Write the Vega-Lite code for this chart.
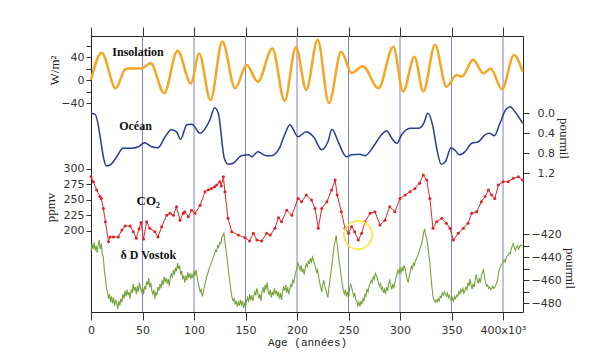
{
  "$schema": "https://vega.github.io/schema/vega-lite/v6.json",
  "width": 432,
  "height": 276,
  "autosize": {"type": "none"},
  "padding": {"left": 91, "top": 36, "right": 89, "bottom": 47},
  "background": "white",
  "config": {
    "view": {"stroke": "#222", "strokeWidth": 1},
    "axis": {"labelFont": "DejaVu Sans", "labelFontSize": 11, "labelColor": "#333", "tickColor": "#333", "domain": false, "grid": false, "titleFont": "Liberation Serif", "titleFontWeight": "normal", "titleFontSize": 13, "titleColor": "#222"}
  },
  "datasets": {
    "grid": [{"g": 50}, {"g": 100}, {"g": 150}, {"g": 200}, {"g": 250}, {"g": 300}, {"g": 350}, {"g": 400}],
    "ins": [{"age":0,"v":0},{"age":10.4,"v":47.5},{"age":24,"v":-14.5},{"age":33,"v":18},{"age":37,"v":20},{"age":49,"v":20},{"age":58,"v":29},{"age":71,"v":-23},{"age":84,"v":51},{"age":97,"v":-6},{"age":105,"v":46},{"age":116,"v":-35},{"age":127.5,"v":67},{"age":140,"v":-14.5},{"age":151,"v":26},{"age":162,"v":-3},{"age":176,"v":55},{"age":188,"v":-36},{"age":199,"v":57},{"age":209,"v":-17},{"age":220,"v":70},{"age":231,"v":-40},{"age":243,"v":49},{"age":253,"v":12},{"age":264,"v":24},{"age":279,"v":-14.5},{"age":293.5,"v":58},{"age":303,"v":-20},{"age":314,"v":40.6},{"age":322.6,"v":-20},{"age":334,"v":61},{"age":345,"v":-11.6},{"age":355,"v":8.7},{"age":360,"v":6},{"age":371,"v":35},{"age":381,"v":11.6},{"age":388,"v":20},{"age":399,"v":-16},{"age":410.7,"v":43.5},{"age":419,"v":14.5}],
    "ocean": [{"age":0,"v":0.0},{"age":4,"v":0.02},{"age":15,"v":1.05},{"age":18,"v":1.04},{"age":25,"v":0.87},{"age":31,"v":0.7},{"age":39.5,"v":0.7},{"age":46,"v":0.67},{"age":52,"v":0.59},{"age":59,"v":0.67},{"age":65,"v":0.69},{"age":72,"v":0.47},{"age":78,"v":0.33},{"age":83,"v":0.37},{"age":87,"v":0.52},{"age":93,"v":0.23},{"age":98,"v":0.22},{"age":106,"v":0.4},{"age":111,"v":0.3},{"age":115.5,"v":0.13},{"age":120,"v":-0.11},{"age":123.6,"v":0.0},{"age":129.4,"v":0.9},{"age":133,"v":1.02},{"age":138,"v":1.0},{"age":146,"v":0.85},{"age":153,"v":0.83},{"age":156,"v":0.87},{"age":162,"v":0.77},{"age":170.5,"v":0.85},{"age":175,"v":0.85},{"age":183.5,"v":0.67},{"age":188,"v":0.43},{"age":193,"v":0.23},{"age":201,"v":0.47},{"age":209,"v":0.37},{"age":216,"v":0.47},{"age":224,"v":0.73},{"age":230,"v":0.57},{"age":234,"v":0.32},{"age":240,"v":0.57},{"age":248,"v":0.87},{"age":253,"v":0.83},{"age":261,"v":0.82},{"age":266,"v":0.85},{"age":274,"v":0.67},{"age":282,"v":0.43},{"age":287,"v":0.35},{"age":292,"v":0.5},{"age":297,"v":0.6},{"age":301.6,"v":0.43},{"age":310,"v":0.3},{"age":318,"v":0.3},{"age":323,"v":0.2},{"age":327,"v":0.0},{"age":332,"v":0.27},{"age":335.6,"v":0.7},{"age":340,"v":1.02},{"age":344,"v":0.97},{"age":349.5,"v":0.69},{"age":353,"v":0.73},{"age":358,"v":0.83},{"age":363,"v":0.77},{"age":369.6,"v":0.6},{"age":376,"v":0.57},{"age":382.5,"v":0.43},{"age":387,"v":0.4},{"age":391.6,"v":0.45},{"age":397,"v":0.2},{"age":402.6,"v":-0.07},{"age":407,"v":-0.13},{"age":411.6,"v":-0.03},{"age":419,"v":0.2}],
    "co2": [{"age":0,"v":287},{"age":2.3,"v":279},{"age":5.5,"v":265.6},{"age":8.7,"v":255},{"age":10,"v":252},{"age":12,"v":236},{"age":14,"v":214.6},{"age":17,"v":182},{"age":18.4,"v":190},{"age":21.7,"v":190},{"age":26.5,"v":190},{"age":30,"v":201},{"age":33,"v":207.6},{"age":38,"v":207.6},{"age":41,"v":198.4},{"age":44,"v":188},{"age":46.6,"v":202.7},{"age":48.5,"v":213.4},{"age":51,"v":186.6},{"age":54,"v":214.5},{"age":57,"v":203.8},{"age":62,"v":198.4},{"age":65,"v":190},{"age":68.6,"v":206.5},{"age":73.5,"v":225},{"age":76.7,"v":228},{"age":80,"v":225},{"age":83,"v":238.7},{"age":86.4,"v":217},{"age":89.6,"v":228},{"age":91,"v":230.7},{"age":94.5,"v":222.6},{"age":97.7,"v":233},{"age":101,"v":228},{"age":106,"v":241},{"age":110.7,"v":263},{"age":114,"v":266},{"age":117,"v":268},{"age":120,"v":271},{"age":122,"v":273.7},{"age":125,"v":279},{"age":126.5,"v":272},{"age":128.5,"v":287},{"age":130,"v":263},{"age":133,"v":220},{"age":136.6,"v":198.4},{"age":143,"v":193},{"age":149.5,"v":188.7},{"age":154,"v":183.4},{"age":157.6,"v":196},{"age":161,"v":185},{"age":165.7,"v":183.4},{"age":170.5,"v":196},{"age":174,"v":193},{"age":178.6,"v":203.8},{"age":182,"v":221},{"age":185,"v":214.5},{"age":190,"v":233},{"age":195,"v":225},{"age":201,"v":252},{"age":204.5,"v":246.8},{"age":209,"v":257.5},{"age":214,"v":249.5},{"age":217.5,"v":236},{"age":220.7,"v":203.8},{"age":224,"v":236},{"age":229,"v":246.8},{"age":233.6,"v":265.6},{"age":237,"v":281.8},{"age":239,"v":257.5},{"age":243,"v":230.7},{"age":246.6,"v":203.8},{"age":250,"v":196},{"age":253,"v":206.5},{"age":256,"v":198.4},{"age":259.5,"v":185},{"age":262.8,"v":196},{"age":266,"v":214.5},{"age":271,"v":228},{"age":275.7,"v":230.7},{"age":280.6,"v":209},{"age":285.4,"v":217},{"age":290,"v":238.7},{"age":295,"v":230.7},{"age":300,"v":252},{"age":305,"v":257.5},{"age":309.7,"v":263},{"age":314.5,"v":268},{"age":319,"v":276.4},{"age":322.6,"v":290},{"age":325.9,"v":281.8},{"age":329,"v":252},{"age":332,"v":203.8},{"age":335.6,"v":214.5},{"age":340.5,"v":220},{"age":345,"v":212},{"age":348.5,"v":203.8},{"age":351.8,"v":185},{"age":356.6,"v":196},{"age":361.5,"v":203.8},{"age":366,"v":212},{"age":369.6,"v":228},{"age":374.4,"v":230.7},{"age":379,"v":246.8},{"age":382.5,"v":255},{"age":385.8,"v":265.6},{"age":389,"v":257.5},{"age":392,"v":252},{"age":395.5,"v":273.7},{"age":400,"v":279},{"age":405,"v":279},{"age":410,"v":284.5},{"age":415,"v":287},{"age":419,"v":281.8}],
    "dd": [{"age":0,"v":-435},{"age":1,"v":-428},{"age":2,"v":-433},{"age":3,"v":-427},{"age":4,"v":-434},{"age":5,"v":-430},{"age":6,"v":-436},{"age":7,"v":-429},{"age":8,"v":-425},{"age":9,"v":-433},{"age":10,"v":-428},{"age":11,"v":-437},{"age":12,"v":-440},{"age":13,"v":-452},{"age":14,"v":-458},{"age":15,"v":-467},{"age":16,"v":-470},{"age":17,"v":-476},{"age":18,"v":-472},{"age":19,"v":-479},{"age":20,"v":-474},{"age":21,"v":-480},{"age":22,"v":-475},{"age":23,"v":-482},{"age":24,"v":-477},{"age":25,"v":-480},{"age":26,"v":-485},{"age":27,"v":-478},{"age":28,"v":-482},{"age":29,"v":-476},{"age":30,"v":-479},{"age":31,"v":-472},{"age":32,"v":-476},{"age":33,"v":-469},{"age":34,"v":-474},{"age":35,"v":-468},{"age":36,"v":-473},{"age":37,"v":-470},{"age":38,"v":-476},{"age":39,"v":-468},{"age":40,"v":-471},{"age":41,"v":-463},{"age":42,"v":-469},{"age":43,"v":-466},{"age":44,"v":-472},{"age":45,"v":-465},{"age":46,"v":-470},{"age":47,"v":-462},{"age":48,"v":-467},{"age":49,"v":-470},{"age":50,"v":-466},{"age":51,"v":-472},{"age":52,"v":-465},{"age":53,"v":-468},{"age":54,"v":-461},{"age":55,"v":-464},{"age":56,"v":-458},{"age":57,"v":-466},{"age":58,"v":-462},{"age":59,"v":-469},{"age":60,"v":-472},{"age":61,"v":-468},{"age":62,"v":-476},{"age":63,"v":-470},{"age":64,"v":-473},{"age":65,"v":-466},{"age":66,"v":-469},{"age":67,"v":-463},{"age":68,"v":-467},{"age":69,"v":-460},{"age":70,"v":-464},{"age":71,"v":-457},{"age":72,"v":-461},{"age":73,"v":-458},{"age":74,"v":-463},{"age":75,"v":-459},{"age":76,"v":-465},{"age":77,"v":-458},{"age":78,"v":-454},{"age":79,"v":-458},{"age":80,"v":-451},{"age":81,"v":-455},{"age":82,"v":-449},{"age":83,"v":-452},{"age":84,"v":-445},{"age":85,"v":-450},{"age":86,"v":-447},{"age":87,"v":-455},{"age":88,"v":-452},{"age":89,"v":-459},{"age":90,"v":-456},{"age":91,"v":-462},{"age":92,"v":-456},{"age":93,"v":-460},{"age":94,"v":-453},{"age":95,"v":-458},{"age":96,"v":-454},{"age":97,"v":-459},{"age":98,"v":-455},{"age":99,"v":-458},{"age":100,"v":-452},{"age":101,"v":-456},{"age":102,"v":-451},{"age":103,"v":-457},{"age":104,"v":-462},{"age":105,"v":-466},{"age":106,"v":-470},{"age":107,"v":-468},{"age":108,"v":-474},{"age":109,"v":-471},{"age":110,"v":-466},{"age":111,"v":-462},{"age":112,"v":-458},{"age":113,"v":-455},{"age":114,"v":-452},{"age":115,"v":-449},{"age":116,"v":-447},{"age":117,"v":-444},{"age":118,"v":-442},{"age":119,"v":-439},{"age":120,"v":-437},{"age":121,"v":-434},{"age":122,"v":-435},{"age":123,"v":-430},{"age":124,"v":-431},{"age":125,"v":-427},{"age":126,"v":-428},{"age":127,"v":-423},{"age":128,"v":-421},{"age":129,"v":-419},{"age":130,"v":-426},{"age":131,"v":-433},{"age":132,"v":-440},{"age":133,"v":-448},{"age":134,"v":-456},{"age":135,"v":-463},{"age":136,"v":-470},{"age":137,"v":-475},{"age":138,"v":-478},{"age":139,"v":-476},{"age":140,"v":-481},{"age":141,"v":-478},{"age":142,"v":-483},{"age":143,"v":-479},{"age":144,"v":-482},{"age":145,"v":-477},{"age":146,"v":-481},{"age":147,"v":-478},{"age":148,"v":-484},{"age":149,"v":-480},{"age":150,"v":-483},{"age":151,"v":-478},{"age":152,"v":-475},{"age":153,"v":-479},{"age":154,"v":-472},{"age":155,"v":-477},{"age":156,"v":-473},{"age":157,"v":-478},{"age":158,"v":-474},{"age":159,"v":-470},{"age":160,"v":-473},{"age":161,"v":-467},{"age":162,"v":-471},{"age":163,"v":-476},{"age":164,"v":-472},{"age":165,"v":-478},{"age":166,"v":-470},{"age":167,"v":-466},{"age":168,"v":-471},{"age":169,"v":-464},{"age":170,"v":-468},{"age":171,"v":-462},{"age":172,"v":-469},{"age":173,"v":-473},{"age":174,"v":-468},{"age":175,"v":-475},{"age":176,"v":-470},{"age":177,"v":-473},{"age":178,"v":-467},{"age":179,"v":-472},{"age":180,"v":-469},{"age":181,"v":-474},{"age":182,"v":-470},{"age":183,"v":-476},{"age":184,"v":-471},{"age":185,"v":-477},{"age":186,"v":-470},{"age":187,"v":-466},{"age":188,"v":-469},{"age":189,"v":-464},{"age":190,"v":-471},{"age":191,"v":-466},{"age":192,"v":-472},{"age":193,"v":-468},{"age":194,"v":-463},{"age":195,"v":-466},{"age":196,"v":-460},{"age":197,"v":-462},{"age":198,"v":-456},{"age":199,"v":-452},{"age":200,"v":-449},{"age":201,"v":-445},{"age":202,"v":-448},{"age":203,"v":-451},{"age":204,"v":-447},{"age":205,"v":-453},{"age":206,"v":-450},{"age":207,"v":-455},{"age":208,"v":-449},{"age":209,"v":-446},{"age":210,"v":-448},{"age":211,"v":-443},{"age":212,"v":-446},{"age":213,"v":-441},{"age":214,"v":-444},{"age":215,"v":-440},{"age":216,"v":-443},{"age":217,"v":-446},{"age":218,"v":-449},{"age":219,"v":-453},{"age":220,"v":-451},{"age":221,"v":-457},{"age":222,"v":-462},{"age":223,"v":-466},{"age":224,"v":-470},{"age":225,"v":-464},{"age":226,"v":-460},{"age":227,"v":-465},{"age":228,"v":-468},{"age":229,"v":-472},{"age":230,"v":-475},{"age":231,"v":-466},{"age":232,"v":-460},{"age":233,"v":-452},{"age":234,"v":-446},{"age":235,"v":-438},{"age":236,"v":-430},{"age":237,"v":-426},{"age":238,"v":-421},{"age":239,"v":-428},{"age":240,"v":-437},{"age":241,"v":-444},{"age":242,"v":-450},{"age":243,"v":-458},{"age":244,"v":-464},{"age":245,"v":-469},{"age":246,"v":-472},{"age":247,"v":-468},{"age":248,"v":-474},{"age":249,"v":-470},{"age":250,"v":-476},{"age":251,"v":-468},{"age":252,"v":-463},{"age":253,"v":-466},{"age":254,"v":-470},{"age":255,"v":-474},{"age":256,"v":-471},{"age":257,"v":-477},{"age":258,"v":-478},{"age":259,"v":-482},{"age":260,"v":-479},{"age":261,"v":-483},{"age":262,"v":-478},{"age":263,"v":-481},{"age":264,"v":-476},{"age":265,"v":-478},{"age":266,"v":-472},{"age":267,"v":-474},{"age":268,"v":-468},{"age":269,"v":-470},{"age":270,"v":-465},{"age":271,"v":-463},{"age":272,"v":-460},{"age":273,"v":-462},{"age":274,"v":-457},{"age":275,"v":-459},{"age":276,"v":-454},{"age":277,"v":-456},{"age":278,"v":-458},{"age":279,"v":-462},{"age":280,"v":-465},{"age":281,"v":-463},{"age":282,"v":-468},{"age":283,"v":-466},{"age":284,"v":-471},{"age":285,"v":-468},{"age":286,"v":-472},{"age":287,"v":-466},{"age":288,"v":-469},{"age":289,"v":-463},{"age":290,"v":-460},{"age":291,"v":-464},{"age":292,"v":-468},{"age":293,"v":-463},{"age":294,"v":-467},{"age":295,"v":-462},{"age":296,"v":-458},{"age":297,"v":-455},{"age":298,"v":-451},{"age":299,"v":-454},{"age":300,"v":-450},{"age":301,"v":-453},{"age":302,"v":-449},{"age":303,"v":-452},{"age":304,"v":-447},{"age":305,"v":-450},{"age":306,"v":-455},{"age":307,"v":-459},{"age":308,"v":-462},{"age":309,"v":-456},{"age":310,"v":-452},{"age":311,"v":-448},{"age":312,"v":-450},{"age":313,"v":-445},{"age":314,"v":-447},{"age":315,"v":-443},{"age":316,"v":-441},{"age":317,"v":-439},{"age":318,"v":-437},{"age":319,"v":-434},{"age":320,"v":-431},{"age":321,"v":-428},{"age":322,"v":-424},{"age":323,"v":-418},{"age":324,"v":-416},{"age":325,"v":-421},{"age":326,"v":-424},{"age":327,"v":-430},{"age":328,"v":-437},{"age":329,"v":-445},{"age":330,"v":-456},{"age":331,"v":-466},{"age":332,"v":-474},{"age":333,"v":-477},{"age":334,"v":-479},{"age":335,"v":-477},{"age":336,"v":-479},{"age":337,"v":-476},{"age":338,"v":-478},{"age":339,"v":-474},{"age":340,"v":-475},{"age":341,"v":-471},{"age":342,"v":-473},{"age":343,"v":-470},{"age":344,"v":-472},{"age":345,"v":-474},{"age":346,"v":-471},{"age":347,"v":-475},{"age":348,"v":-473},{"age":349,"v":-477},{"age":350,"v":-478},{"age":351,"v":-475},{"age":352,"v":-478},{"age":353,"v":-474},{"age":354,"v":-476},{"age":355,"v":-473},{"age":356,"v":-474},{"age":357,"v":-470},{"age":358,"v":-472},{"age":359,"v":-468},{"age":360,"v":-470},{"age":361,"v":-467},{"age":362,"v":-471},{"age":363,"v":-469},{"age":364,"v":-466},{"age":365,"v":-468},{"age":366,"v":-462},{"age":367,"v":-465},{"age":368,"v":-459},{"age":369,"v":-464},{"age":370,"v":-468},{"age":371,"v":-463},{"age":372,"v":-466},{"age":373,"v":-459},{"age":374,"v":-455},{"age":375,"v":-460},{"age":376,"v":-463},{"age":377,"v":-458},{"age":378,"v":-462},{"age":379,"v":-456},{"age":380,"v":-453},{"age":381,"v":-451},{"age":382,"v":-457},{"age":383,"v":-462},{"age":384,"v":-465},{"age":385,"v":-464},{"age":386,"v":-467},{"age":387,"v":-466},{"age":388,"v":-468},{"age":389,"v":-467},{"age":390,"v":-465},{"age":391,"v":-467},{"age":392,"v":-466},{"age":393,"v":-464},{"age":394,"v":-462},{"age":395,"v":-458},{"age":396,"v":-452},{"age":397,"v":-449},{"age":398,"v":-447},{"age":399,"v":-446},{"age":400,"v":-444},{"age":401,"v":-442},{"age":402,"v":-444},{"age":403,"v":-441},{"age":404,"v":-439},{"age":405,"v":-438},{"age":406,"v":-436},{"age":407,"v":-437},{"age":408,"v":-433},{"age":409,"v":-430},{"age":410,"v":-428},{"age":411,"v":-432},{"age":412,"v":-434},{"age":413,"v":-431},{"age":414,"v":-430},{"age":415,"v":-433},{"age":416,"v":-431},{"age":417,"v":-429},{"age":418,"v":-430},{"age":419,"v":-430}]
  },
  "resolve": {"scale": {"y": "independent"}, "axis": {"x": "independent", "y": "independent"}},
  "layer": [
    {
      "data": {"name": "grid"},
      "mark": {"type": "rule", "color": "#8080c4", "strokeWidth": 1},
      "encoding": {
        "x": {"field": "g", "type": "quantitative", "scale": {"domain": [0, 419.4], "nice": false, "zero": false},
          "axis": {"orient": "bottom", "values": [0, 50, 100, 150, 200, 250, 300, 350, 400], "labelExpr": "datum.value == 400 ? '400x10³' : datum.label", "tickSize": 8, "labelPadding": 4, "title": "Age (années)", "titleFont": "Liberation Mono", "titleFontSize": 11, "titlePadding": 1, "labelFlush": false}}
      }
    },
    {
      "data": {"name": "grid"},
      "mark": {"type": "rule", "opacity": 0},
      "encoding": {
        "x": {"field": "g", "type": "quantitative", "scale": {"domain": [0, 419.4], "nice": false, "zero": false},
          "axis": {"orient": "top", "values": [0, 50, 100, 150, 200, 250, 300, 350, 400], "labels": false, "tickSize": 9, "title": null}}
      }
    },
    {
      "layer": [
        {
          "data": {"name": "ins"},
          "mark": {"type": "line", "color": "#f6a623", "strokeWidth": 2.5, "interpolate": "monotone"},
          "encoding": {
            "x": {"field": "age", "type": "quantitative", "axis": null},
            "y": {"field": "v", "type": "quantitative", "scale": {"domain": [-40, 60], "range": [67, 9.5], "nice": false, "zero": false},
              "axis": {"orient": "left", "values": [-40, -20, 0, 20, 40, 60], "labelExpr": "datum.value % 40 == 0 ? datum.label : ''", "tickSize": 5, "labelPadding": 2, "title": "W/m²", "titleX": -37, "titleY": 34, "titleBaseline": "middle"}}
          }
        },
        {
          "data": {"values": [{"age": 45.6, "v": 48.2, "t": "Insolation"}]},
          "mark": {"type": "text", "font": "Liberation Serif", "fontWeight": "bold", "fontSize": 12, "color": "#111", "baseline": "middle"},
          "encoding": {
            "x": {"field": "age", "type": "quantitative", "axis": null},
            "y": {"field": "v", "type": "quantitative"},
            "text": {"field": "t"}
          }
        }
      ]
    },
    {
      "layer": [
        {
          "data": {"name": "ocean"},
          "mark": {"type": "line", "color": "#2b3a92", "strokeWidth": 1.5, "interpolate": "monotone"},
          "encoding": {
            "x": {"field": "age", "type": "quantitative", "axis": null},
            "y": {"field": "v", "type": "quantitative", "scale": {"domain": [1.2, -0.2], "range": [137.3, 67.3], "nice": false, "zero": false},
              "axis": {"orient": "right", "values": [-0.2, 0, 0.2, 0.4, 0.6, 0.8, 1.0, 1.2], "labelExpr": "abs((datum.value * 10) % 4) < 0.01 ? format(datum.value, '.1f') : ''", "tickSize": 6, "labelPadding": 8, "title": "pourmil", "titleX": 40, "titleY": 102, "titleBaseline": "middle"}}
          }
        },
        {
          "data": {"values": [{"age": 43.2, "v": 0.254, "t": "Océan"}]},
          "mark": {"type": "text", "font": "Liberation Serif", "fontWeight": "bold", "fontSize": 12, "color": "#111", "baseline": "middle"},
          "encoding": {
            "x": {"field": "age", "type": "quantitative", "axis": null},
            "y": {"field": "v", "type": "quantitative"},
            "text": {"field": "t"}
          }
        }
      ]
    },
    {
      "layer": [
        {
          "data": {"name": "co2"},
          "mark": {"type": "line", "color": "#e8262a", "strokeWidth": 1, "point": {"filled": true, "size": 9, "color": "#e41f26"}},
          "encoding": {
            "x": {"field": "age", "type": "quantitative", "axis": null},
            "y": {"field": "v", "type": "quantitative", "scale": {"domain": [200, 300], "range": [194.7, 132.7], "nice": false, "zero": false},
              "axis": {"orient": "left", "values": [200, 225, 250, 275, 300], "tickSize": 5, "labelPadding": 2, "title": "ppmv", "titleX": -41, "titleY": 171, "titleBaseline": "middle"}}
          }
        },
        {
          "data": {"values": [{"age": 55.6, "v": 247.9, "t": "CO₂"}]},
          "mark": {"type": "text", "font": "Liberation Serif", "fontWeight": "bold", "fontSize": 13, "color": "#111", "baseline": "middle"},
          "encoding": {
            "x": {"field": "age", "type": "quantitative", "axis": null},
            "y": {"field": "v", "type": "quantitative"},
            "text": {"field": "t"}
          }
        },
        {
          "data": {"values": [{"age": 259.2, "v": 193}]},
          "mark": {"type": "point", "shape": "circle", "size": 800, "filled": false, "stroke": "#f2ea4a", "strokeWidth": 1.8, "opacity": 1},
          "encoding": {
            "x": {"field": "age", "type": "quantitative", "axis": null},
            "y": {"field": "v", "type": "quantitative"}
          }
        }
      ]
    },
    {
      "layer": [
        {
          "data": {"name": "dd"},
          "mark": {"type": "line", "color": "#78a23c", "strokeWidth": 1.1},
          "encoding": {
            "x": {"field": "age", "type": "quantitative", "axis": null},
            "y": {"field": "v", "type": "quantitative", "scale": {"domain": [-480, -420], "range": [267.3, 198.3], "nice": false, "zero": false},
              "axis": {"orient": "right", "values": [-480, -470, -460, -450, -440, -430, -420], "labelExpr": "datum.value % 20 == 0 ? datum.label : ''", "tickSize": 6, "labelPadding": 2, "title": "pourmil", "titleX": 46, "titleY": 232, "titleBaseline": "middle"}}
          }
        },
        {
          "data": {"values": [{"age": 55.7, "v": -438, "t": "δ D Vostok"}]},
          "mark": {"type": "text", "font": "Liberation Serif", "fontWeight": "bold", "fontSize": 12, "color": "#111", "baseline": "middle"},
          "encoding": {
            "x": {"field": "age", "type": "quantitative", "axis": null},
            "y": {"field": "v", "type": "quantitative"},
            "text": {"field": "t"}
          }
        }
      ]
    }
  ]
}
